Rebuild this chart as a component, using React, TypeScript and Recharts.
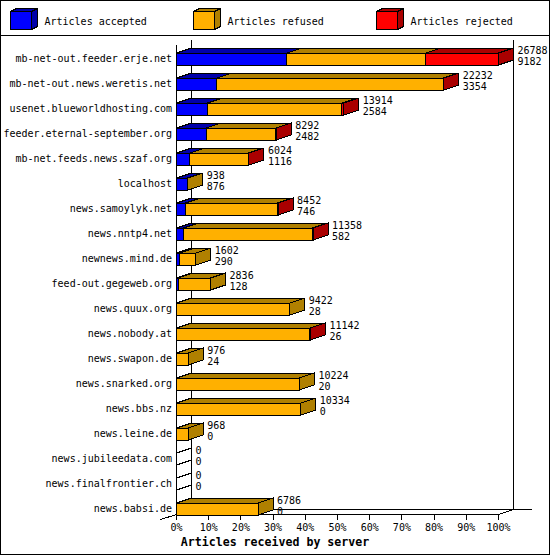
import React from "react";
import { BarChart, Bar, XAxis, YAxis, LabelList, Customized } from "recharts";

const servers = [
  "mb-net-out.feeder.erje.net",
  "mb-net-out.news.weretis.net",
  "usenet.blueworldhosting.com",
  "feeder.eternal-september.org",
  "mb-net.feeds.news.szaf.org",
  "localhost",
  "news.samoylyk.net",
  "news.nntp4.net",
  "newnews.mind.de",
  "feed-out.gegeweb.org",
  "news.quux.org",
  "news.nobody.at",
  "news.swapon.de",
  "news.snarked.org",
  "news.bbs.nz",
  "news.leine.de",
  "news.jubileedata.com",
  "news.finalfrontier.ch",
  "news.babsi.de",
];

// total articles received (upper label)
const totals = [26788, 22232, 13914, 8292, 6024, 938, 8452, 11358, 1602, 2836, 9422, 11142, 976, 10224, 10334, 968, 0, 0, 6786];
// accepted (lower label)
const accepted = [9182, 3354, 2584, 2482, 1116, 876, 746, 582, 290, 128, 28, 26, 24, 20, 0, 0, 0, 0, 0];
const refused = [11552, 18858, 11160, 5770, 4878, 62, 7646, 10741, 1312, 2708, 9394, 11056, 952, 10204, 10334, 968, 0, 0, 6786];
const rejected = [6054, 20, 170, 40, 30, 0, 60, 35, 0, 0, 0, 60, 0, 0, 0, 0, 0, 0, 0];

const seriesNames = ["Articles accepted", "Articles refused", "Articles rejected"];
const tickPercents = [0, 10, 20, 30, 40, 50, 60, 70, 80, 90, 100];
const axisTitle = "Articles received by server";

const keys = ["accepted", "refused", "rejected"];
const faceColors = ["#0000ff", "#ffb000", "#ff0000"];
const darkColors = ["#0000aa", "#b08000", "#aa0000"];

const data = servers.map((name, i) => ({
  name,
  accepted: accepted[i],
  refused: refused[i],
  rejected: rejected[i],
  total: totals[i],
}));

const maxTotal = Math.max(...totals);

const W = 550;
const H = 555;
const LEFT = 176.5;
const RIGHT = 498.5;
const BASE_Y = 514.5;
const DX = 15;
const DY = 5;
const FONT = "'DejaVu Sans Mono', 'Liberation Mono', monospace";

function make3D(idx: number) {
  return (props: any) => {
    const { x, y, width, height, payload } = props;
    let last = -1;
    keys.forEach((k, j) => {
      if (payload[k] > 0) last = j;
    });
    const isLast = last === idx || (last === -1 && idx === keys.length - 1);
    const w = Math.max(0, width || 0);
    if (w === 0 && !isLast) return <g />;
    const front = faceColors[idx];
    const dark = darkColors[idx];
    const top = `${x},${y} ${x + w},${y} ${x + w + DX},${y - DY} ${x + DX},${y - DY}`;
    const side = `${x + w},${y} ${x + w + DX},${y - DY} ${x + w + DX},${y + height - DY} ${x + w},${y + height}`;
    const empty = last === -1;
    return (
      <g shapeRendering="crispEdges">
        {w > 0 && <polygon points={top} fill={dark} stroke="#000" />}
        {w > 0 && <rect x={x} y={y} width={w} height={height} fill={front} stroke="#000" />}
        {isLast && (
          <polygon
            points={side}
            fill={empty ? "none" : darkColors[last]}
            stroke="#000"
          />
        )}
      </g>
    );
  };
}

const TotalLabel = (props: any) => {
  const { x, y, width, value } = props;
  return (
    <text x={x + width + DX + 4} y={y - 3} fontSize={10} fontFamily={FONT} fill="#000" dominantBaseline="central">
      {value}
    </text>
  );
};

const AcceptedLabel = (props: any) => {
  const { x, y, width, value } = props;
  return (
    <text x={x + width + DX + 4} y={y + 8} fontSize={10} fontFamily={FONT} fill="#000" dominantBaseline="central">
      {value}
    </text>
  );
};

const PctTick = (props: any) => {
  const { x, payload } = props;
  const pct = Math.round((payload.value / maxTotal) * 100);
  return (
    <g>
      <line x1={x} x2={x} y1={BASE_Y} y2={BASE_Y + 5} stroke="#000" shapeRendering="crispEdges" />
      <text x={x} y={527} textAnchor="middle" dominantBaseline="central" fontSize={10} fontFamily={FONT} fill="#000">
        {`${pct}%`}
      </text>
    </g>
  );
};

const ServerTick = (props: any) => {
  const { y, payload } = props;
  return (
    <text x={172} y={y} textAnchor="end" dominantBaseline="central" fontSize={10} fontFamily={FONT} fill="#000">
      {payload.value}
    </text>
  );
};

const Frame = () => (
  <g stroke="#000" fill="none" shapeRendering="crispEdges">
    <rect x={0.5} y={0.5} width={W - 1} height={H - 1} />
    <line x1={0} x2={W} y1={35.5} y2={35.5} />
    <line x1={LEFT + DX} x2={LEFT + DX} y1={40} y2={BASE_Y - DY} />
    <line x1={RIGHT + DX} x2={RIGHT + DX} y1={40} y2={BASE_Y - DY} />
    <line x1={LEFT + DX} x2={532} y1={BASE_Y - DY} y2={BASE_Y - DY} />
    <line x1={LEFT} x2={RIGHT} y1={BASE_Y} y2={BASE_Y} />
    <line x1={RIGHT} x2={RIGHT + DX} y1={BASE_Y} y2={BASE_Y - DY} />
    <line x1={LEFT} x2={LEFT - DX - 1} y1={BASE_Y} y2={BASE_Y + DY} />
    {seriesNames.map((name, i) => {
      const x0 = 10.5 + i * 183;
      const y0 = 11.5;
      return (
        <g key={name}>
          <polygon points={`${x0},${y0} ${x0 + 21},${y0} ${x0 + 27},${y0 - 3} ${x0 + 6},${y0 - 3}`} fill={darkColors[i]} />
          <polygon points={`${x0 + 21},${y0} ${x0 + 27},${y0 - 3} ${x0 + 27},${y0 + 15} ${x0 + 21},${y0 + 18}`} fill={darkColors[i]} />
          <rect x={x0} y={y0} width={21} height={18} fill={faceColors[i]} />
          <text x={x0 + 34} y={21} stroke="none" fill="#000" fontSize={10} fontFamily={FONT} dominantBaseline="central">
            {name}
          </text>
        </g>
      );
    })}
  </g>
);

const FrontAxis = () => (
  <line x1={LEFT} x2={LEFT} y1={45} y2={BASE_Y} stroke="#000" shapeRendering="crispEdges" />
);

export default function App() {
  return (
    <div style={{ position: "absolute", left: 0, top: 0, width: W, height: H, background: "#fff" }}>
      <BarChart
        width={W}
        height={H}
        data={data}
        layout="vertical"
        margin={{ top: 46, right: W - RIGHT, bottom: 0, left: 0 }}
        style={{ fontFamily: FONT }}
      >
        <Customized component={Frame} />
        <XAxis
          type="number"
          domain={[0, maxTotal]}
          ticks={tickPercents.map((p) => (maxTotal * p) / 100)}
          axisLine={false}
          tickLine={false}
          height={34}
          tick={<PctTick />}
          interval={0}
        />
        <YAxis
          type="category"
          dataKey="name"
          width={LEFT}
          axisLine={false}
          tickLine={false}
          tickSize={0}
          tick={<ServerTick />}
          interval={0}
        />
        {keys.map((k, i) => (
          <Bar
            key={k}
            dataKey={k}
            stackId="a"
            barSize={12}
            isAnimationActive={false}
            shape={make3D(i)}
          >
            {k === "rejected" && (
              <LabelList dataKey="total" content={<TotalLabel />} />
            )}
            {k === "rejected" && (
              <LabelList dataKey="accepted" content={<AcceptedLabel />} />
            )}
          </Bar>
        ))}
        <Customized component={FrontAxis} />
        <Customized
          component={() => (
            <text x={W / 2} y={542} textAnchor="middle" dominantBaseline="central" fontSize={11.6} fontWeight="bold" fontFamily={FONT} fill="#000">
              {axisTitle}
            </text>
          )}
        />
      </BarChart>
    </div>
  );
}
